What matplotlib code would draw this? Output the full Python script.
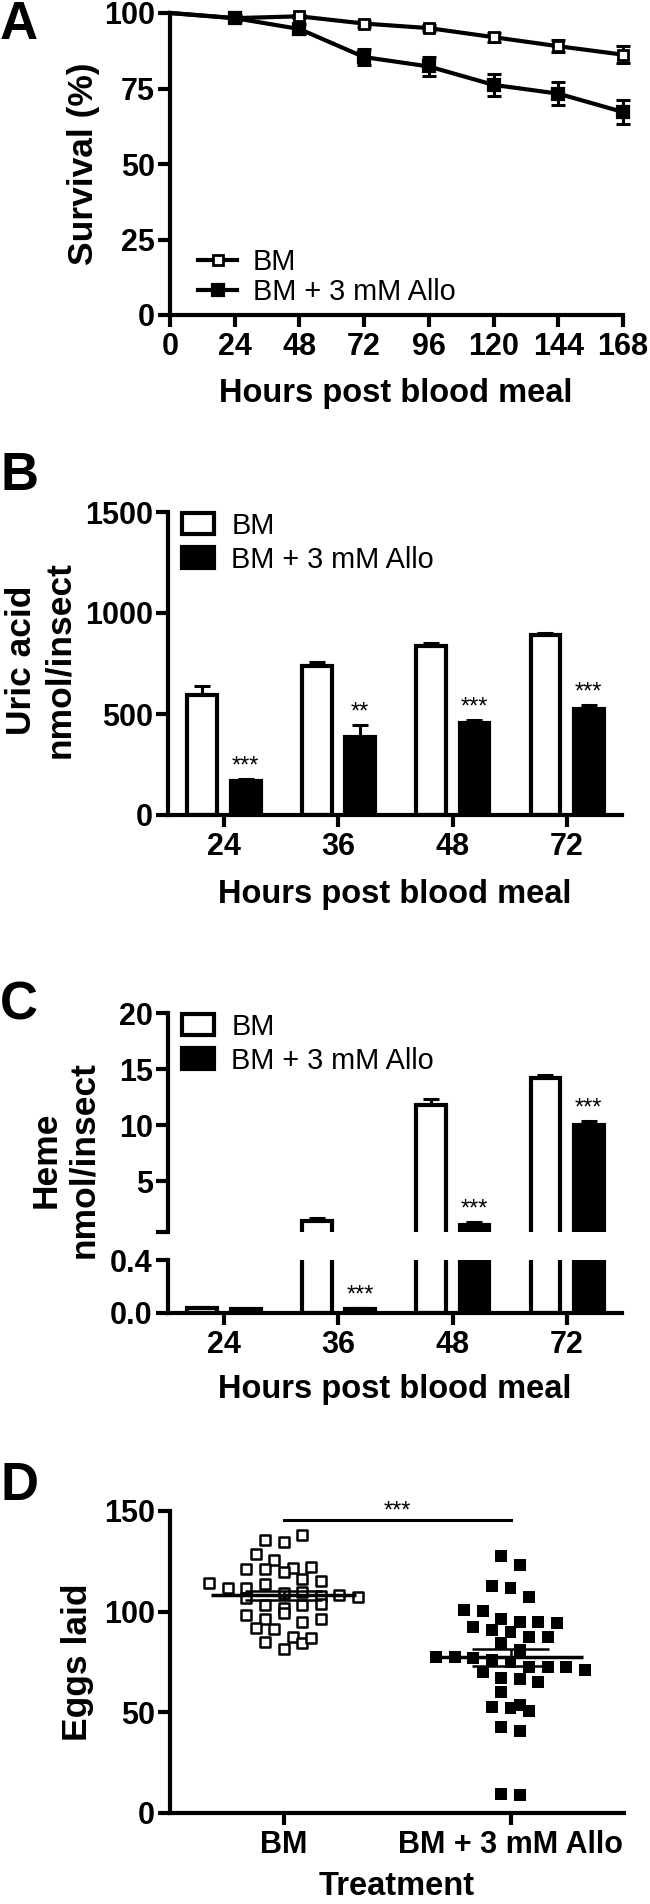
#!/usr/bin/env python3
"""Four stacked panels: survival, uric acid, heme and eggs laid (BM vs BM + allopurinol)."""
import matplotlib
matplotlib.use("Agg")
import matplotlib.pyplot as plt
import numpy as np
from matplotlib.patches import Patch

W, H = 650, 1904

# --- A: survival curve
hours_a = [0, 24, 48, 72, 96, 120, 144, 168]
surv_bm = [100, 98.3, 98.9, 96.5, 95.0, 92.0, 89.0, 86.2]
surv_bm_err = [0, 0.5, 0.5, 1.0, 1.0, 1.5, 2.0, 2.8]
surv_allo = [100, 98.3, 94.7, 85.4, 82.3, 76.2, 73.3, 67.2]
surv_allo_err = [0, 1.0, 1.5, 2.6, 3.2, 3.6, 3.8, 4.0]

# --- B: uric acid
hours_b = ["24", "36", "48", "72"]
uric_bm = [595, 740, 837, 889]
uric_bm_err = [42, 16, 13, 12]
uric_allo = [170, 387, 453, 523]
uric_allo_err = [8, 57, 18, 22]
uric_sig = ["***", "**", "***", "***"]

# --- C: heme (broken axis)
heme_bm = [0.035, 1.45, 11.85, 14.2]
heme_bm_err = [0.012, 0.3, 0.5, 0.3]
heme_allo = [0.028, 0.03, 1.1, 10.05]
heme_allo_err = [0.003, 0.005, 0.25, 0.35]
heme_sig = ["", "***", "***", "***"]

# --- D: eggs laid per female
eggs_groups = ["BM", "BM + 3 mM Allo"]
eggs_bm = [135.7, 134.7, 138.1, 128.5, 125.5, 121.6, 121.1, 121.1, 122.2, 119.7,
           116.1, 114.1, 115.3, 111.9, 111.9, 113.6, 109.5, 110.0, 107.8, 107.0,
           108.1, 107.5, 103.2, 101.8, 103.2, 103.6, 98.2, 96.5, 99.5, 94.9,
           96.5, 92.0, 91.2, 87.4, 85.0, 81.6, 84.2, 87.1]
eggs_allo = [127.8, 123.2, 112.9, 111.6, 107.5, 100.8, 100.5, 96.4, 95.0, 95.0,
             94.5, 92.2, 90.9, 90.0, 87.6, 87.3, 84.6, 81.0, 77.6, 77.6,
             76.8, 76.0, 75.2, 72.7, 72.7, 72.3, 71.0, 70.2, 66.9, 66.4,
             65.2, 60.3, 53.6, 52.8, 52.0, 50.8, 42.5, 40.9, 9.4, 8.9]
eggs_sig = "***"

LW = 3.0
TICK_FS = 22
XLAB_FS = 23.5
YLAB_FS = 25.5
LEG = {"size": 20.8, "weight": "normal"}

plt.rcParams["font.family"] = ["Liberation Sans", "DejaVu Sans"]
plt.rcParams["font.weight"] = "bold"


def px_axes(fig, left, top, right, bottom):
    return fig.add_axes([left / W, 1 - bottom / H, (right - left) / W, (bottom - top) / H])


def style(ax):
    for s in ("top", "right"):
        ax.spines[s].set_visible(False)
    for s in ("left", "bottom"):
        ax.spines[s].set_linewidth(LW)
    ax.tick_params(direction="out", length=8.5, width=LW, labelsize=TICK_FS)
    ax.tick_params(axis="x", pad=4)
    ax.tick_params(axis="y", pad=2.5)


def fy(y):
    return 1 - y / H


def stars(ax, x, y, s):
    ax.annotate(s, (x, y), xytext=(0, 4.7), textcoords="offset points",
                ha="center", va="baseline", fontsize=17, fontweight="normal")


def swarm_offsets(vals, row_h, step):
    # Prism-style column scatter: points of similar value share a centred row
    vals = np.asarray(vals, float)
    order = np.argsort(-vals, kind="stable")
    offs = np.zeros(len(vals))
    groups, cur = [], [order[0]]
    for idx in order[1:]:
        if vals[cur[0]] - vals[idx] < row_h:
            cur.append(idx)
        else:
            groups.append(cur)
            cur = [idx]
    groups.append(cur)
    for g in groups:
        g = sorted(g)
        n = len(g)
        for k, idx in enumerate(g):
            offs[idx] = (k - (n - 1) / 2) * step
    return offs


fig = plt.figure(figsize=(W / 100, H / 100), dpi=100)

# ---------------- A
axA = px_axes(fig, 170, 13, 623, 315)
style(axA)
mk = range(1, len(hours_a))
axA.errorbar(hours_a[1:], surv_bm[1:], yerr=surv_bm_err[1:], fmt="none", ecolor="k",
             elinewidth=2.2, capsize=5, capthick=2.2, clip_on=False, zorder=2)
axA.errorbar(hours_a[1:], surv_allo[1:], yerr=surv_allo_err[1:], fmt="none", ecolor="k",
             elinewidth=2.2, capsize=5, capthick=2.2, clip_on=False, zorder=2)
axA.plot(hours_a, surv_bm, color="k", lw=LW, marker="s", ms=7.5, mfc="white", mec="k",
         mew=2.0, markevery=mk, clip_on=False, zorder=3, label="BM")
axA.plot(hours_a, surv_allo, color="k", lw=LW, marker="s", ms=8, mfc="k", mec="k",
         mew=1.6, markevery=mk, clip_on=False, zorder=4, label="BM + 3 mM Allo")
axA.set_xlim(0, 168)
axA.set_ylim(0, 100)
axA.set_xticks(hours_a)
axA.set_yticks([0, 25, 50, 75, 100])
axA.legend(loc="lower left", bbox_to_anchor=(0.062, 0.03), frameon=False, borderpad=0,
           borderaxespad=0, handlelength=1.35, handletextpad=0.55, labelspacing=0.05,
           numpoints=1, prop=LEG)
fig.text(0, fy(39), "A", fontsize=38, ha="left", va="baseline")
fig.text(83 / W, fy(164), "Survival (%)", rotation=90, fontsize=YLAB_FS, ha="center", va="center")
fig.text(396 / W, fy(402), "Hours post blood meal", fontsize=XLAB_FS, ha="center", va="baseline")

# ---------------- B
x = np.arange(len(hours_b))
off, bw = 0.19, 0.26
bar_leg = dict(loc="upper left", frameon=False, borderpad=0, borderaxespad=0,
               handlelength=1.12, handleheight=0.74, handletextpad=0.6,
               labelspacing=0.2, prop=LEG)
leg_handles = [Patch(facecolor="white", edgecolor="k", lw=LW, label="BM"),
               Patch(facecolor="k", edgecolor="k", lw=LW, label="BM + 3 mM Allo")]

axB = px_axes(fig, 168, 512, 622, 815)
style(axB)
axB.bar(x - off, uric_bm, bw, color="white", edgecolor="k", lw=LW, zorder=2)
axB.bar(x + off, uric_allo, bw, color="k", edgecolor="k", lw=LW, zorder=2)
axB.errorbar(x - off, uric_bm, yerr=[np.zeros(len(x)), uric_bm_err], fmt="none", ecolor="k",
             elinewidth=2.2, capsize=6, capthick=2.2, zorder=1)
axB.errorbar(x + off, uric_allo, yerr=[np.zeros(len(x)), uric_allo_err], fmt="none", ecolor="k",
             elinewidth=2.2, capsize=6, capthick=2.2, zorder=1)
for i, s in enumerate(uric_sig):
    stars(axB, x[i] + off, uric_allo[i] + uric_allo_err[i], s)
axB.set_xlim(-0.49, 3.48)
axB.set_ylim(0, 1500)
axB.set_xticks(x, hours_b)
axB.set_yticks([0, 500, 1000, 1500])
axB.legend(handles=leg_handles, bbox_to_anchor=(0.03, 1.0), **bar_leg)
fig.text(0, fy(490), "B", fontsize=38, ha="left", va="baseline")
fig.text(41 / W, fy(660), "Uric acid\nnmol/insect", rotation=90, fontsize=YLAB_FS,
         ha="center", va="center", multialignment="center", linespacing=1.2)
fig.text(395 / W, fy(903), "Hours post blood meal", fontsize=XLAB_FS, ha="center", va="baseline")

# ---------------- C (broken y axis)
axCu = px_axes(fig, 168, 1013, 622, 1232)
axCl = px_axes(fig, 168, 1260, 622, 1313)
for ax in (axCu, axCl):
    style(ax)
    ax.bar(x - off, heme_bm, bw, color="white", edgecolor="k", lw=LW, zorder=2)
    ax.bar(x + off, heme_allo, bw, color="k", edgecolor="k", lw=LW, zorder=2)
    ax.errorbar(x - off, heme_bm, yerr=[np.zeros(len(x)), heme_bm_err], fmt="none", ecolor="k",
                elinewidth=2.2, capsize=6, capthick=2.2, zorder=1)
    ax.errorbar(x + off, heme_allo, yerr=[np.zeros(len(x)), heme_allo_err], fmt="none", ecolor="k",
                elinewidth=2.2, capsize=6, capthick=2.2, zorder=1)
    ax.set_xlim(-0.49, 3.48)
axCu.set_ylim(0.5, 20)
axCu.set_yticks([0.5, 5, 10, 15, 20], ["", "5", "10", "15", "20"])
axCu.spines["bottom"].set_visible(False)
axCu.tick_params(axis="x", bottom=False, labelbottom=False)
axCl.set_ylim(0, 0.4)
axCl.set_yticks([0, 0.4], ["0.0", "0.4"])
axCl.set_xticks(x, hours_b)
for i, s in enumerate(heme_sig):
    if s:
        top = heme_allo[i] + heme_allo_err[i]
        stars(axCl if top < 0.4 else axCu, x[i] + off, top, s)
axCu.legend(handles=leg_handles, bbox_to_anchor=(0.03, 1.0), **bar_leg)
fig.text(0, fy(1020), "C", fontsize=38, ha="left", va="baseline")
fig.text(65 / W, fy(1160), "Heme\nnmol/insect", rotation=90, fontsize=YLAB_FS,
         ha="center", va="center", multialignment="center", linespacing=1.2)
fig.text(395 / W, fy(1398), "Hours post blood meal", fontsize=XLAB_FS, ha="center", va="baseline")

# ---------------- D
axD = px_axes(fig, 170, 1511, 624, 1813)
style(axD)
step = 0.082
bm_x = 0 + swarm_offsets(eggs_bm, 7.0, step)
allo_x = 1 + swarm_offsets(eggs_allo, 7.0, step)
axD.scatter(bm_x, eggs_bm, marker="s", s=58, facecolor="white", edgecolor="k", lw=1.8, zorder=3)
axD.scatter(allo_x, eggs_allo, marker="s", s=74, facecolor="k", edgecolor="none", zorder=3)
for i, vals in enumerate([eggs_bm, eggs_allo]):
    m = np.mean(vals)
    sem = np.std(vals, ddof=1) / np.sqrt(len(vals))
    axD.hlines(m, i - 0.32, i + 0.32, color="k", lw=2.5, zorder=4)
    axD.hlines([m - sem, m + sem], i - 0.17, i + 0.17, color="k", lw=1.8, zorder=4)
    axD.vlines(i, m - sem, m + sem, color="k", lw=1.8, zorder=4)
sig_y = 145.5
axD.plot([0, 1], [sig_y, sig_y], color="k", lw=2.2)
axD.annotate(eggs_sig, (0.5, sig_y), xytext=(0, 1.5), textcoords="offset points",
             ha="center", va="baseline", fontsize=17, fontweight="normal")
axD.set_xlim(-0.5, 1.5)
axD.set_ylim(0, 150)
axD.set_xticks([0, 1], eggs_groups)
axD.set_yticks([0, 50, 100, 150])
fig.text(0, fy(1500), "D", fontsize=38, ha="left", va="baseline")
fig.text(78 / W, fy(1662), "Eggs laid", rotation=90, fontsize=YLAB_FS, ha="center", va="center")
fig.text(397 / W, fy(1895), "Treatment", fontsize=XLAB_FS, ha="center", va="baseline")

fig.savefig("out.png", dpi=100)
